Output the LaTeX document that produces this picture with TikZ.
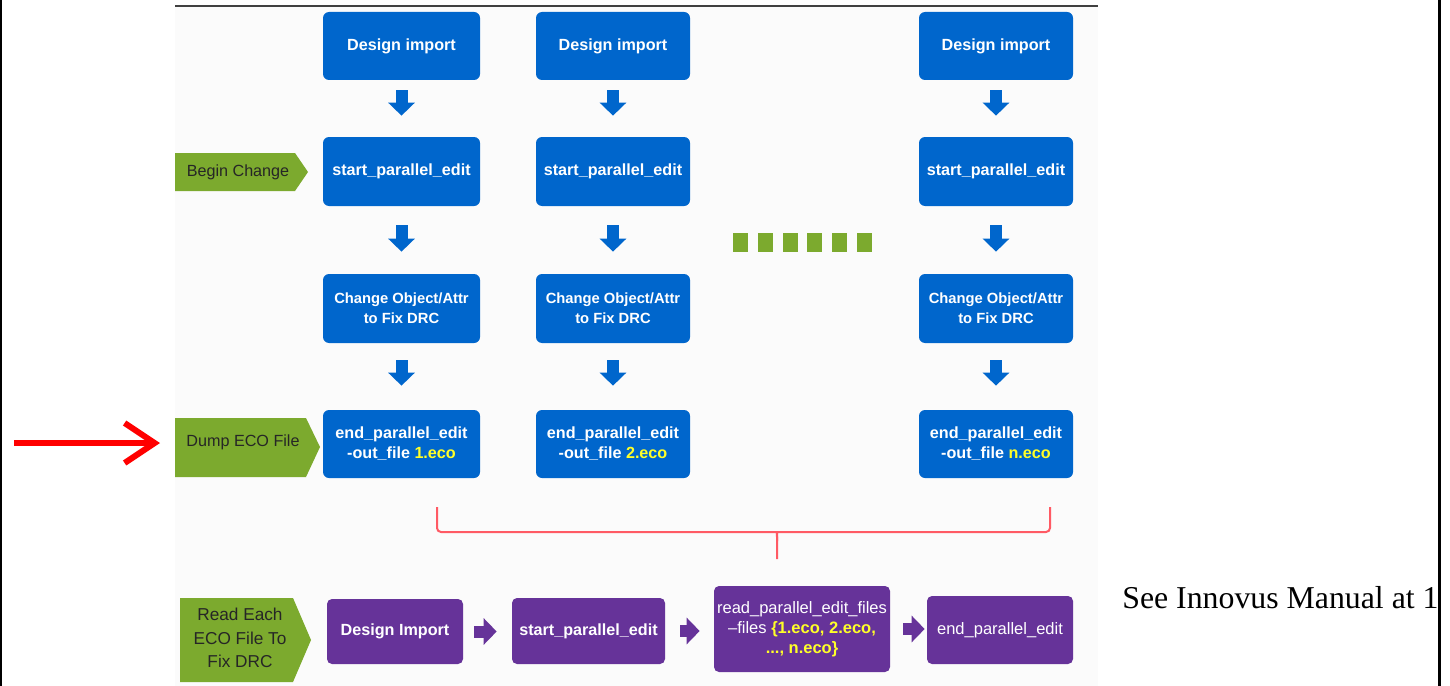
\documentclass[tikz,border=0pt]{standalone}
\usepackage{fontspec}
\setmainfont{Liberation Serif}
\newfontfamily\arialf{Liberation Sans}
\usetikzlibrary{calc,arrows.meta}
\definecolor{ecoblue}{RGB}{0,102,204}
\definecolor{ecopurple}{RGB}{102,51,153}
\definecolor{ecogreen}{RGB}{124,170,46}
\definecolor{ecoyellow}{RGB}{255,255,40}
\definecolor{bracketred}{RGB}{255,90,100}
\definecolor{bgpanel}{RGB}{251,251,251}
\newcommand\mybox[7]{\node[#1, minimum width={(#4-#3)*0.02cm}, minimum height={(#6-#5)*0.02cm}] (#2) at ({(#3+#4)/2},{(#5+#6)/2}) {#7};}
\begin{document}
\begin{tikzpicture}[x=0.02cm,y=-0.02cm,
  bluebox/.style={fill=ecoblue, rounded corners=0.12cm, inner sep=0pt, text=white, align=center,
    font=\arialf\bfseries\fontsize{9.2}{11.3}\selectfont},
  smallblue/.style={bluebox, font=\arialf\bfseries\fontsize{8.4}{11.3}\selectfont},
  purplebox/.style={fill=ecopurple, rounded corners=0.1cm, inner sep=0pt, text=white, align=center,
    font=\arialf\fontsize{9.4}{11.3}\selectfont},
  purplebold/.style={purplebox, font=\arialf\bfseries\fontsize{9.2}{11.3}\selectfont},
  greenlbl/.style={fill=ecogreen},
  greentext/.style={text=black!85, align=center, font=\arialf\fontsize{9.2}{11.3}\selectfont},
  blockarr/.style={line width=0.24cm, -{Triangle[length=0.26cm, width=0.52cm]}},
  bracket/.style={draw=bracketred, line width=0.04cm, rounded corners=0.08cm}
]
\useasboundingbox (0,0) rectangle (1450,686);
\fill[white] (0,0) rectangle (1450,686);
\fill[bgpanel] (175,7) rectangle (1098,686);
\draw[line width=0.04cm, black!75] (175,6) -- (1098,6);

% blue columns
\foreach \c/\xa/\xb in {1/323/480, 2/536/690, 3/919/1073}{
  \mybox{bluebox}{a\c}{\xa}{\xb}{12}{80}{Design import}
  \mybox{bluebox}{b\c}{\xa}{\xb}{137}{206}{start\_parallel\_edit}
  \mybox{smallblue}{c\c}{\xa}{\xb}{274}{343}{Change Object/Attr\\to Fix DRC}
}
\mybox{bluebox}{d1}{323}{480}{410}{478}{end\_parallel\_edit\\-out\_file \textcolor{ecoyellow}{1.eco}}
\mybox{bluebox}{d2}{536}{690}{410}{478}{end\_parallel\_edit\\-out\_file \textcolor{ecoyellow}{2.eco}}
\mybox{bluebox}{d3}{919}{1073}{410}{478}{end\_parallel\_edit\\-out\_file \textcolor{ecoyellow}{n.eco}}

\foreach \c in {1,2,3}{
  \draw[blockarr, ecoblue] ($(a\c.south)+(0,10)$) -- ($(b\c.north)+(0,-21)$);
  \draw[blockarr, ecoblue] ($(b\c.south)+(0,19)$) -- ($(c\c.north)+(0,-22)$);
  \draw[blockarr, ecoblue] ($(c\c.south)+(0,17)$) -- ($(d\c.north)+(0,-24)$);
}

% dots between columns
\foreach \k in {0,...,5}{
  \fill[ecogreen] ({733+24.8*\k},233) rectangle ({748+24.8*\k},252);
}

% green labels
\fill[greenlbl] (175,153) -- (295,153) -- (308,172) -- (295,191) -- (175,191) -- cycle;
\node[greentext] (lbc) at (238,172) {Begin Change};
\fill[greenlbl] (175,418) -- (306,418) -- (320,447) -- (306,477) -- (175,477) -- cycle;
\node[greentext] (ldump) at (243,442) {Dump ECO File};
\fill[greenlbl] (180,598) -- (293,598) -- (311,640) -- (293,682) -- (180,682) -- cycle;
\node[greentext, font=\arialf\fontsize{9.8}{13.5}\selectfont] (lread) at (240,638) {Read Each\\ECO File To\\Fix DRC};

% red arrow
\coordinate (redstart) at (14,443);
\coordinate (redend) at (160,443);
\draw[red, line width=0.11cm, -{Straight Barb[length=0.6cm, width=0.8cm, line width=0.12cm]}] (redstart) -- (redend);

% bracket
\draw[bracket] (437,507) -- (437,532) -- (773,532) to[out=0,in=90] (777,541) -- (777,559);
\draw[bracket] (1050,507) -- (1050,532) -- (781,532) to[out=180,in=90] (777,541);

% purple row
\mybox{purplebold}{p1}{327}{463}{599}{664}{Design Import}
\mybox{purplebold}{p2}{512}{665}{598}{664}{start\_parallel\_edit}
\mybox{purplebox}{p3}{714}{890}{586}{672}{read\_parallel\_edit\_files\\–files \textcolor{ecoyellow}{\bfseries\{1.eco, 2.eco,}\\\textcolor{ecoyellow}{\bfseries ..., n.eco\}}}
\mybox{purplebox}{p4}{927}{1073}{596}{664}{end\_parallel\_edit}

\draw[blockarr, ecopurple] ($(p1.east)+(11,0)$) -- ($(p1.east -| p2.west)+(-15,0)$);
\draw[blockarr, ecopurple] ($(p2.east)+(15,0)$) -- ($(p2.east -| p3.west)+(-14,0)$);
\draw[blockarr, ecopurple] ($(p3.east)+(13,0)$) -- ($(p3.east -| p4.west)+(-2,0)$);

% side note
\begin{scope}
\clip (1100,560) rectangle (1438,640);
\node[anchor=base west, inner sep=0pt, font=\fontsize{18.1}{20}\selectfont] (note) at (1122,608) {See Innovus Manual at 1};
\end{scope}

% frame lines
\draw[line width=0.06cm, black] (1,0) -- (1,686);
\draw[line width=0.06cm, black] (1439,0) -- (1439,686);
\end{tikzpicture}
\end{document}
